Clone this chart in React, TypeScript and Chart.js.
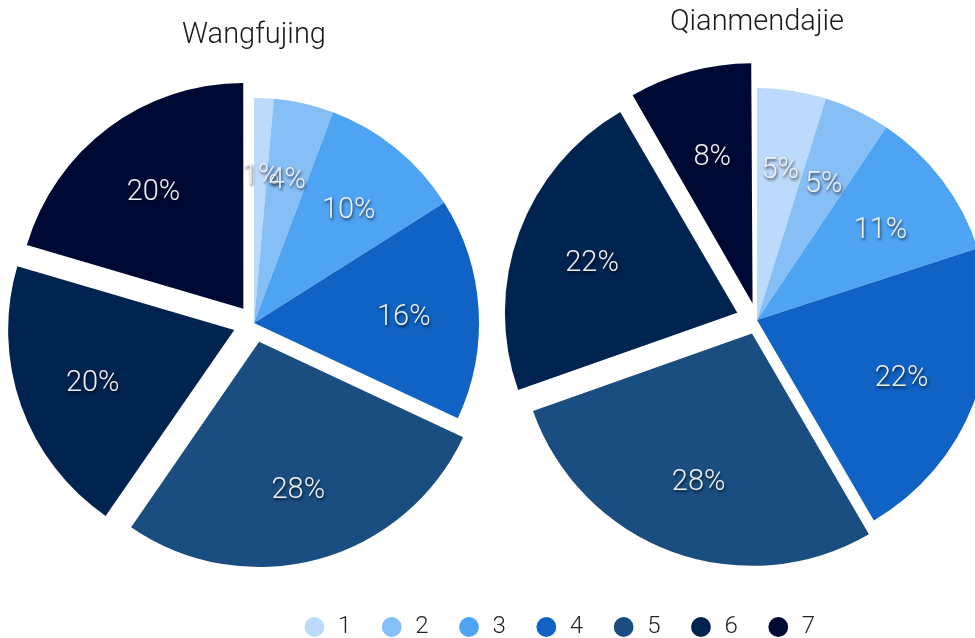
import React, { useEffect, useRef } from 'react';
import { Chart, registerables } from 'chart.js';

Chart.register(...registerables);

// ---- data ----
const categories = ['1', '2', '3', '4', '5', '6', '7'];
const wangfujingValues = [1.4, 4.3, 10.3, 15.9, 27.6, 19.9, 20.4];
const qianmendajieValues = [4.8, 4.6, 10.6, 21.6, 28.0, 22.0, 8.4];
const chartTitles = ['Wangfujing', 'Qianmendajie'];

// ---- style ----
const sliceColors = ['#bcdafb', '#86bef6', '#4fa3f3', '#1063c4', '#1a4e80', '#012350', '#000934'];
const wangfujingOffsets = [0, 0, 0, 0, 78, 84, 71];
const qianmendajieOffsets = [0, 0, 0, 0, 58, 84, 68];
const FONT = 'Roboto, "Liberation Sans", Arial, sans-serif';

Chart.defaults.font.family = FONT;
Chart.defaults.color = '#222222';

const labelPlugin = {
  id: 'pctLabels',
  afterDatasetsDraw(chart: any) {
    const ctx = chart.ctx;
    const meta = chart.getDatasetMeta(0);
    const ds = chart.data.datasets[0];
    const data = ds.data as number[];
    const offs = (ds.offset || []) as number[];
    const total = data.reduce((a, b) => a + b, 0);
    meta.data.forEach((arc: any, i: number) => {
      const p = arc.getProps(['x', 'y', 'startAngle', 'endAngle', 'outerRadius'], true);
      if (!p.outerRadius) return;
      const mid = (p.startAngle + p.endAngle) / 2;
      const shift = (offs[i] || 0) / 4;
      const d = p.outerRadius * 0.667 + shift;
      const px = p.x + Math.cos(mid) * d;
      const py = p.y + Math.sin(mid) * d + 4;
      ctx.save();
      ctx.font = `300 29px ${FONT}`;
      ctx.textAlign = 'center';
      ctx.textBaseline = 'middle';
      ctx.shadowColor = 'rgba(0,0,0,0.7)';
      ctx.shadowOffsetX = 1;
      ctx.shadowOffsetY = 2;
      ctx.shadowBlur = 3;
      ctx.fillStyle = '#eef2f7';
      ctx.fillText(Math.round((data[i] / total) * 100) + '%', px, py);
      ctx.restore();
    });
  },
};

function makePie(canvas: HTMLCanvasElement, title: string, values: number[], offsets: number[], radius: number, titleTop: number, bottomPad: number) {
  return new Chart(canvas, {
    type: 'pie',
    data: {
      labels: categories,
      datasets: [
        {
          data: values,
          backgroundColor: sliceColors,
          borderWidth: 0,
          offset: offsets,
          hoverOffset: 0,
          radius: radius,
          clip: false as any,
        } as any,
      ],
    },
    options: {
      responsive: false,
      animation: false,
      layout: { padding: { top: 0, bottom: bottomPad, left: 0, right: 0 } },
      plugins: {
        legend: { display: false },
        tooltip: { enabled: false },
        title: {
          display: true,
          text: title,
          color: '#1a1a1a',
          font: { size: 29, weight: 300 as any, family: FONT },
          padding: { top: titleTop, bottom: 0 },
        },
      },
    },
    plugins: [labelPlugin],
  });
}

export default function App() {
  const leftRef = useRef<HTMLCanvasElement>(null);
  const rightRef = useRef<HTMLCanvasElement>(null);
  const legendRef = useRef<HTMLCanvasElement>(null);

  useEffect(() => {
    document.body.style.margin = '0';
    document.body.style.overflow = 'hidden';
    const left = makePie(leftRef.current!, chartTitles[0], wangfujingValues, wangfujingOffsets, 225, 18, 6.8);
    const right = makePie(rightRef.current!, chartTitles[1], qianmendajieValues, qianmendajieOffsets, 232, 5, 9.8);
    const legend = new Chart(legendRef.current!, {
      type: 'pie',
      data: {
        labels: categories,
        datasets: [{ data: wangfujingValues, backgroundColor: sliceColors, borderWidth: 0, radius: 0 } as any],
      },
      options: {
        responsive: false,
        animation: false,
        plugins: {
          tooltip: { enabled: false },
          legend: {
            display: true,
            position: 'top',
            labels: {
              usePointStyle: true,
              pointStyle: 'circle',
              boxWidth: 23,
              boxHeight: 14,
              padding: 29,
              color: '#222222',
              font: { size: 24, weight: 300 as any, family: FONT },
            },
          },
        },
      },
    });
    return () => {
      left.destroy();
      right.destroy();
      legend.destroy();
    };
  }, []);

  return (
    <div style={{ position: 'relative', width: 975, height: 638, overflow: 'hidden', background: '#fff' }}>
      <canvas ref={leftRef} width={510} height={600} style={{ position: 'absolute', left: -1, top: 0 }} />
      <canvas ref={rightRef} width={512} height={610} style={{ position: 'absolute', left: 501, top: 0 }} />
      <canvas ref={legendRef} width={600} height={160} style={{ position: 'absolute', left: 259, top: 586 }} />
    </div>
  );
}
